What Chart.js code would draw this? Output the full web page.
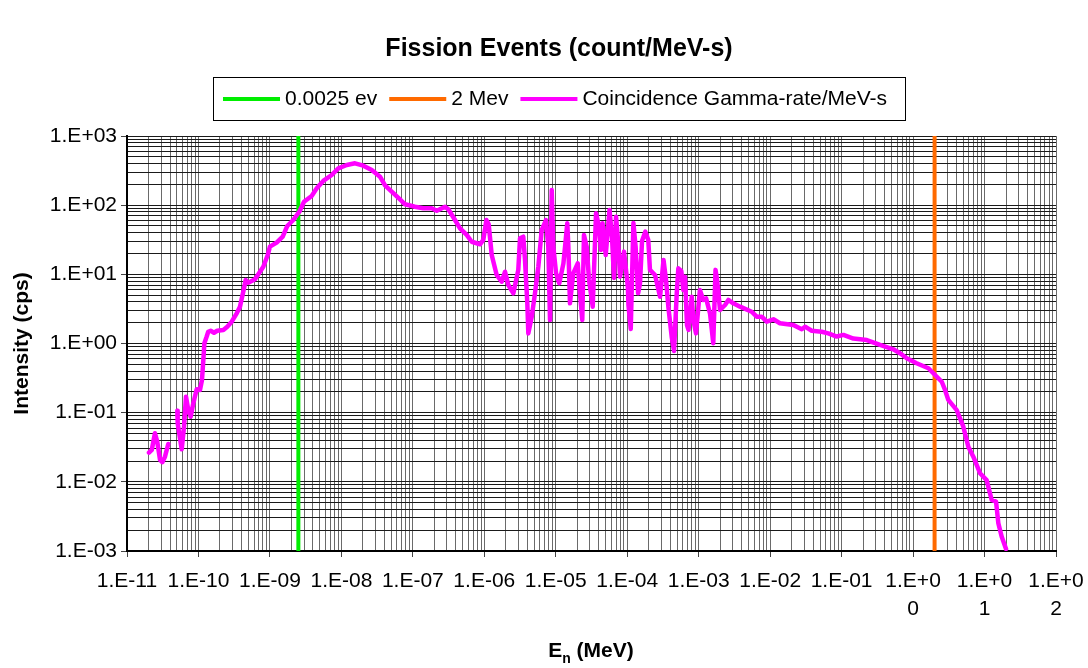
<!DOCTYPE html>
<html>
<head>
<meta charset="utf-8">
<title>Fission Events</title>
<script src="https://cdn.jsdelivr.net/npm/chart.js@4.4.1/dist/chart.umd.min.js"></script>
<style>
  body { margin: 0; background: #fff; }
  #wrap { width: 1088px; height: 668px; }
</style>
</head>
<body>
<div id="wrap"><canvas id="fissionChart" width="1088" height="668"></canvas></div>
<script>
// neutron energy (MeV) and coincidence gamma rate (cps); null marks the break in the trace
const energyMeV = [
  2.03e-11, 2.22e-11, 2.46e-11, 2.65e-11, 2.90e-11, 3.12e-11, 3.40e-11, 3.78e-11, 4.3e-11,
  5.06e-11, 5.12e-11, 5.83e-11, 6.28e-11, 6.69e-11, 7.21e-11, 7.79e-11, 8.47e-11, 9.45e-11,
  1.05e-10, 1.12e-10, 1.17e-10, 1.21e-10, 1.30e-10, 1.37e-10, 1.48e-10, 1.65e-10, 1.83e-10,
  2.23e-10, 2.53e-10, 2.92e-10, 3.43e-10, 3.81e-10, 4.34e-10, 4.58e-10, 4.98e-10, 6.18e-10,
  8.08e-10, 9.31e-10, 1.00e-9, 1.24e-9, 1.51e-9, 1.75e-9, 2.12e-9, 2.58e-9, 3.00e-9,
  3.84e-9, 4.52e-9, 5.58e-9, 7.32e-9, 9.06e-9, 1.19e-8, 1.55e-8, 2.03e-8, 2.66e-8,
  3.47e-8, 4.08e-8, 5.06e-8, 6.61e-8, 7.77e-8, 1.07e-7, 1.40e-7, 1.84e-7, 2.16e-7,
  2.82e-7, 3.14e-7, 3.89e-7, 4.57e-7, 5.67e-7, 6.66e-7, 8.71e-7, 9.68e-7, 1.07e-6,
  1.15e-6, 1.27e-6, 1.49e-6, 1.75e-6, 1.95e-6, 2.17e-6, 2.55e-6, 2.99e-6, 3.16e-6,
  3.51e-6, 3.71e-6, 4.00e-6, 4.13e-6, 4.61e-6, 5.12e-6, 5.70e-6, 6.36e-6, 7.30e-6,
  7.86e-6, 8.31e-6, 8.78e-6, 9.24e-6, 1.01e-5, 1.12e-5, 1.28e-5, 1.45e-5, 1.50e-5,
  1.58e-5, 1.76e-5, 2.03e-5, 2.18e-5, 2.35e-5, 2.48e-5, 2.71e-5, 2.92e-5, 3.29e-5,
  3.66e-5, 4.03e-5, 4.30e-5, 4.51e-5, 5.00e-5, 5.65e-5, 6.12e-5, 6.53e-5, 6.97e-5,
  7.43e-5, 7.93e-5, 9.02e-5, 1.02e-4, 1.04e-4, 1.12e-4, 1.22e-4, 1.31e-4, 1.42e-4,
  1.51e-4, 1.61e-4, 1.79e-4, 1.97e-4, 2.08e-4, 2.45e-4, 2.88e-4, 3.22e-4, 3.49e-4,
  3.76e-4, 4.19e-4, 4.52e-4, 4.93e-4, 5.19e-4, 5.71e-4, 6.09e-4, 6.44e-4, 6.86e-4,
  7.20e-4, 7.99e-4, 8.41e-4, 9.17e-4, 1.04e-3, 1.16e-3, 1.27e-3, 1.44e-3, 1.60e-3,
  1.72e-3, 1.81e-3, 1.99e-3, 2.34e-3, 2.60e-3, 3.05e-3, 3.79e-3, 5.52e-3, 6.49e-3,
  7.62e-3, 8.95e-3, 1.11e-2, 1.37e-2, 2.11e-2, 2.77e-2, 3.08e-2, 3.82e-2, 5.27e-2,
  6.52e-2, 8.54e-2, 0.106, 0.146, 0.225, 0.345, 0.529, 0.657, 0.815,
  1.12, 1.64, 1.92, 2.52, 2.80, 3.11, 4.08, 5.05, 5.93,
  6.97, 8.65, 10.7, 12.6, 14.5, 15.6, 17.4, 20.0
];
const gammaRate = [
  0.0264, 0.0289, 0.0504, 0.0381, 0.0207, 0.0192, 0.0231, 0.0353, null,
  0.107, 0.0702, 0.0295, 0.0627, 0.170, 0.109, 0.0875, 0.137, 0.218,
  0.213, 0.297, 0.577, 1.01, 1.25, 1.48, 1.53, 1.43, 1.53,
  1.57, 1.75, 2.07, 2.73, 3.41, 6.28, 8.28, 7.57, 8.48,
  12.9, 19.0, 25.1, 28.7, 35.0, 50.0, 61.0, 80.5, 112,
  136, 175, 224, 273, 341, 381, 403, 372, 322,
  258, 193, 157, 121, 103, 95.0, 90.1, 90.1, 83.2,
  95.0, 87.2, 61.0, 46.3, 37.1, 29.6, 27.2, 31.4, 61.0,
  53.4, 19.0, 9.78, 7.83, 10.9, 7.01, 5.32, 11.6, 33.2,
  35.0, 16.1, 3.81, 1.40, 2.44, 5.32, 12.9, 43.8, 61.0,
  25.1, 2.19, 166, 25.1, 10.4, 7.42, 14.4, 54.7, 25.1,
  3.81, 10.4, 14.4, 5.32, 2.19, 37.1, 25.1, 8.28, 3.41,
  76.3, 48.9, 22.5, 54.7, 19.0, 85.1, 35.0, 8.85, 68.1,
  31.4, 9.25, 21.3, 6.63, 3.60, 1.62, 55.2, 25.1, 5.32,
  7.42, 30.3, 41.4, 31.4, 11.6, 9.78, 4.75, 16.1, 8.28,
  3.41, 1.25, 0.779, 5.32, 12.2, 11.2, 5.94, 9.25, 1.85,
  1.57, 4.75, 2.19, 1.40, 5.94, 4.26, 4.50, 2.73, 1.01,
  11.6, 8.28, 3.05, 3.60, 4.26, 3.81, 3.41, 2.88, 2.44,
  2.44, 2.07, 2.24, 1.96, 1.85, 1.61, 1.75, 1.53, 1.48,
  1.40, 1.26, 1.33, 1.18, 1.12, 0.952, 0.825, 0.722, 0.611,
  0.518, 0.438, 0.371, 0.280, 0.213, 0.153, 0.109, 0.0627, 0.0322,
  0.0231, 0.0133, 0.0106, 0.00547, 0.00517, 0.00252, 0.00161, 0.00107
];

// reference energies drawn as vertical lines
const markerLabels = ['0.0025 ev', '2 Mev'];
const markerEnergies = [2.5e-9, 2];
const markerColors = ['#00ee00', '#ff6a00'];

const xTickLabels = ['1.E-11', '1.E-10', '1.E-09', '1.E-08', '1.E-07', '1.E-06', '1.E-05',
  '1.E-04', '1.E-03', '1.E-02', '1.E-01', ['1.E+0', '0'], ['1.E+0', '1'], ['1.E+0', '2']];
const yTickLabels = ['1.E-03', '1.E-02', '1.E-01', '1.E+00', '1.E+01', '1.E+02', '1.E+03'];

const FONT = '"Liberation Sans", Arial, sans-serif';
Chart.defaults.font.family = FONT;
Chart.defaults.color = '#000';

// 1..9 x 10^n grid for a log axis
function logGrid(minExp, maxExp) {
  const ticks = [];
  for (let e = minExp; e < maxExp; e++) {
    for (let m = 1; m < 10; m++) ticks.push({ value: m * Math.pow(10, e) });
  }
  ticks.push({ value: Math.pow(10, maxExp) });
  return ticks;
}

const isDecade = ctx => ctx.index % 9 === 0;

const markerSets = markerEnergies.map((e, i) => ({
  label: markerLabels[i],
  data: [{ x: e, y: 1e-3 }, { x: e, y: 1e3 }],
  borderColor: markerColors[i],
  backgroundColor: markerColors[i],
  borderWidth: 4,
  pointRadius: 0,
  order: 1
}));

const gammaSet = {
  label: 'Coincidence Gamma-rate/MeV-s',
  data: energyMeV.map((e, i) => ({ x: e, y: gammaRate[i] })),
  borderColor: '#ff00ff',
  backgroundColor: '#ff00ff',
  borderWidth: 4.5,
  borderJoinStyle: 'round',
  borderCapStyle: 'round',
  pointRadius: 0,
  spanGaps: false,
  order: 0
};

// title, boxed legend and the subscripted x-axis title
const frameText = {
  id: 'frameText',
  afterDraw(chart) {
    const ctx = chart.ctx;
    ctx.save();
    ctx.fillStyle = '#000';
    ctx.textBaseline = 'middle';

    ctx.font = 'bold 25px ' + FONT;
    ctx.textAlign = 'center';
    ctx.fillText('Fission Events (count/MeV-s)', 559, 49);

    // legend
    ctx.font = '21px ' + FONT;
    ctx.textAlign = 'left';
    const items = chart.data.datasets.map(d => ({ label: d.label, color: d.borderColor }));
    const lineLen = 57, lineGap = 5, itemGap = 12, pad = 10;
    let total = 0;
    items.forEach((it, i) => {
      it.w = ctx.measureText(it.label).width;
      total += lineLen + lineGap + it.w + (i < items.length - 1 ? itemGap : 0);
    });
    const boxW = Math.max(total + pad * 2, 692), boxH = 43;
    const boxX = Math.round(559 - boxW / 2), boxY = 77;
    ctx.fillStyle = '#fff';
    ctx.fillRect(boxX, boxY, boxW, boxH);
    ctx.strokeStyle = '#000';
    ctx.lineWidth = 1;
    ctx.strokeRect(boxX + 0.5, boxY + 0.5, boxW, boxH);
    let x = boxX + pad;
    const cy = boxY + boxH / 2 + 0.5;
    items.forEach(it => {
      ctx.strokeStyle = it.color;
      ctx.lineWidth = 4;
      ctx.beginPath();
      ctx.moveTo(x, cy);
      ctx.lineTo(x + lineLen, cy);
      ctx.stroke();
      x += lineLen + lineGap;
      ctx.fillStyle = '#000';
      ctx.fillText(it.label, x, cy);
      x += it.w + itemGap;
    });

    // x-axis title: E with subscript n
    const big = 'bold 21px ' + FONT, small = 'bold 14px ' + FONT;
    ctx.textBaseline = 'alphabetic';
    ctx.font = big;
    const wE = ctx.measureText('E').width;
    const wRest = ctx.measureText(' (MeV)').width;
    ctx.font = small;
    const wN = ctx.measureText('n').width;
    let tx = 591 - (wE + wN + wRest) / 2;
    const base = 657;
    ctx.font = big;
    ctx.fillText('E', tx, base);
    tx += wE;
    ctx.font = small;
    ctx.fillText('n', tx, base + 6);
    tx += wN;
    ctx.font = big;
    ctx.fillText(' (MeV)', tx, base);
    ctx.restore();
  }
};

new Chart(document.getElementById('fissionChart'), {
  type: 'line',
  data: { datasets: [...markerSets, gammaSet] },
  options: {
    responsive: false,
    animation: false,
    layout: { padding: { top: 136, right: 32, bottom: 0, left: 0 } },
    plugins: {
      legend: { display: false },
      title: { display: false },
      tooltip: { enabled: false }
    },
    scales: {
      x: {
        type: 'logarithmic',
        position: 'bottom',
        min: 1e-11,
        max: 100,
        afterBuildTicks: scale => { scale.ticks = logGrid(-11, 2); },
        afterFit: scale => {
          scale.height = 117;
          scale.paddingLeft = 0;
          scale.paddingRight = 0;
        },
        ticks: {
          autoSkip: false,
          maxRotation: 0,
          minRotation: 0,
          padding: 10,
          font: { size: 21, lineHeight: 1.34 },
          color: '#000',
          callback: (v, i) => (i % 9 === 0 ? xTickLabels[i / 9] : '')
        },
        grid: {
          color: '#6a6a6a',
          lineWidth: 1,
          tickLength: 6,
          tickColor: ctx => (isDecade(ctx) ? '#444' : 'rgba(0,0,0,0)')
        },
        border: { display: true, color: '#000', width: 2 }
      },
      y: {
        type: 'logarithmic',
        min: 1e-3,
        max: 1e3,
        afterBuildTicks: scale => { scale.ticks = logGrid(-3, 3); },
        afterFit: scale => {
          scale.width = 127;
          scale.paddingTop = 0;
          scale.paddingBottom = 0;
        },
        ticks: {
          autoSkip: false,
          padding: 4,
          font: { size: 21 },
          color: '#000',
          callback: (v, i) => (i % 9 === 0 ? yTickLabels[i / 9] : '')
        },
        grid: {
          color: '#1a1a1a',
          lineWidth: 1,
          tickLength: 6,
          tickColor: ctx => (isDecade(ctx) ? '#444' : 'rgba(0,0,0,0)')
        },
        border: { display: true, color: '#000', width: 2 },
        title: {
          display: true,
          text: 'Intensity (cps)',
          font: { size: 21, weight: 'bold' },
          padding: { top: 10, bottom: 0 }
        }
      }
    }
  },
  plugins: [frameText]
});
</script>
</body>
</html>
